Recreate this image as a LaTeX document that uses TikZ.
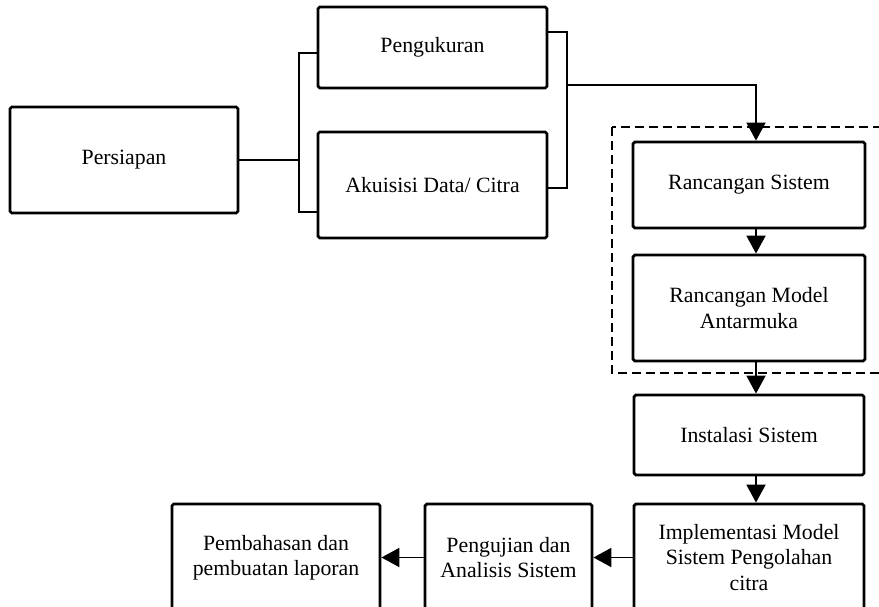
\documentclass[tikz,border=0pt]{standalone}
\usepackage{fontspec}
\setmainfont{Liberation Serif}
\usepackage{tikz}
\usetikzlibrary{arrows.meta,positioning,calc}

\begin{document}
\begin{tikzpicture}[
    box/.style={draw, line width=1.6pt, rounded corners=1pt, align=center,
        inner sep=0pt, font=\fontsize{12.4}{14.3}\selectfont},
    link/.style={line width=1.1pt},
    flow/.style={line width=1.1pt, -{Triangle[length=0.36cm,width=0.38cm]}}
]
    \clip (0,0) rectangle (17.58,12.12);

    % Preparation and data
    \node[box, minimum width=4.56cm, minimum height=2.12cm] (prep) at (2.48, 8.92) {Persiapan};
    \node[box, minimum width=4.58cm, minimum height=1.62cm] (ukur) at (8.65, 11.17) {Pengukuran};
    \node[box, minimum width=4.58cm, minimum height=2.12cm] (akuisisi) at (8.65, 8.42) {Akuisisi Data/ Citra};

    % Design (dashed group)
    \node[box, minimum width=4.64cm, minimum height=1.72cm] (rsistem) at (14.98, 8.42) {Rancangan Sistem};
    \node[box, minimum width=4.64cm, minimum height=2.12cm] (rmodel) at (14.98, 5.96) {Rancangan Model\\Antarmuka};
    \draw[line width=1.1pt, dash pattern=on 0.18cm off 0.1cm] (12.24, 9.58) rectangle (18, 4.66);

    % Build and test
    \node[box, minimum width=4.6cm, minimum height=1.6cm] (instal) at (14.98, 3.42) {Instalasi Sistem};
    \node[box, minimum width=4.6cm, minimum height=2.14cm] (impl) at (14.98, 0.97) {Implementasi Model\\Sistem Pengolahan\\citra};
    \node[box, minimum width=3.34cm, minimum height=2.14cm] (uji) at (10.17, 0.97) {Pengujian dan\\Analisis Sistem};
    \node[box, minimum width=4.16cm, minimum height=2.14cm] (bahas) at (5.52, 0.97) {Pembahasan dan\\pembuatan laporan};

    % Brackets
    \coordinate (jl) at (5.98, 8.92);
    \coordinate (jr) at (11.34, 10.42);
    \coordinate (spine) at (15.12, 0);
    \draw[link] (prep.east) -- (jl);
    \draw[link] (ukur.west |- 0,11.06) -| (jl |- 0,7.88) -- (akuisisi.west |- 0,7.88);
    \draw[link] (ukur.east |- 0,11.48) -| (jr |- 0,8.36) -- (akuisisi.east |- 0,8.36);
    \draw[flow] (jr) -| (rsistem.north -| spine);

    % Flow
    \draw[flow] (rsistem.south -| spine) -- (rmodel.north -| spine);
    \draw[flow] (rmodel.south -| spine) -- (instal.north -| spine);
    \draw[flow] (instal.south -| spine) -- (impl.north -| spine);
    \draw[flow] (impl.west) -- (uji.east);
    \draw[flow] (uji.west) -- (bahas.east);
\end{tikzpicture}
\end{document}
